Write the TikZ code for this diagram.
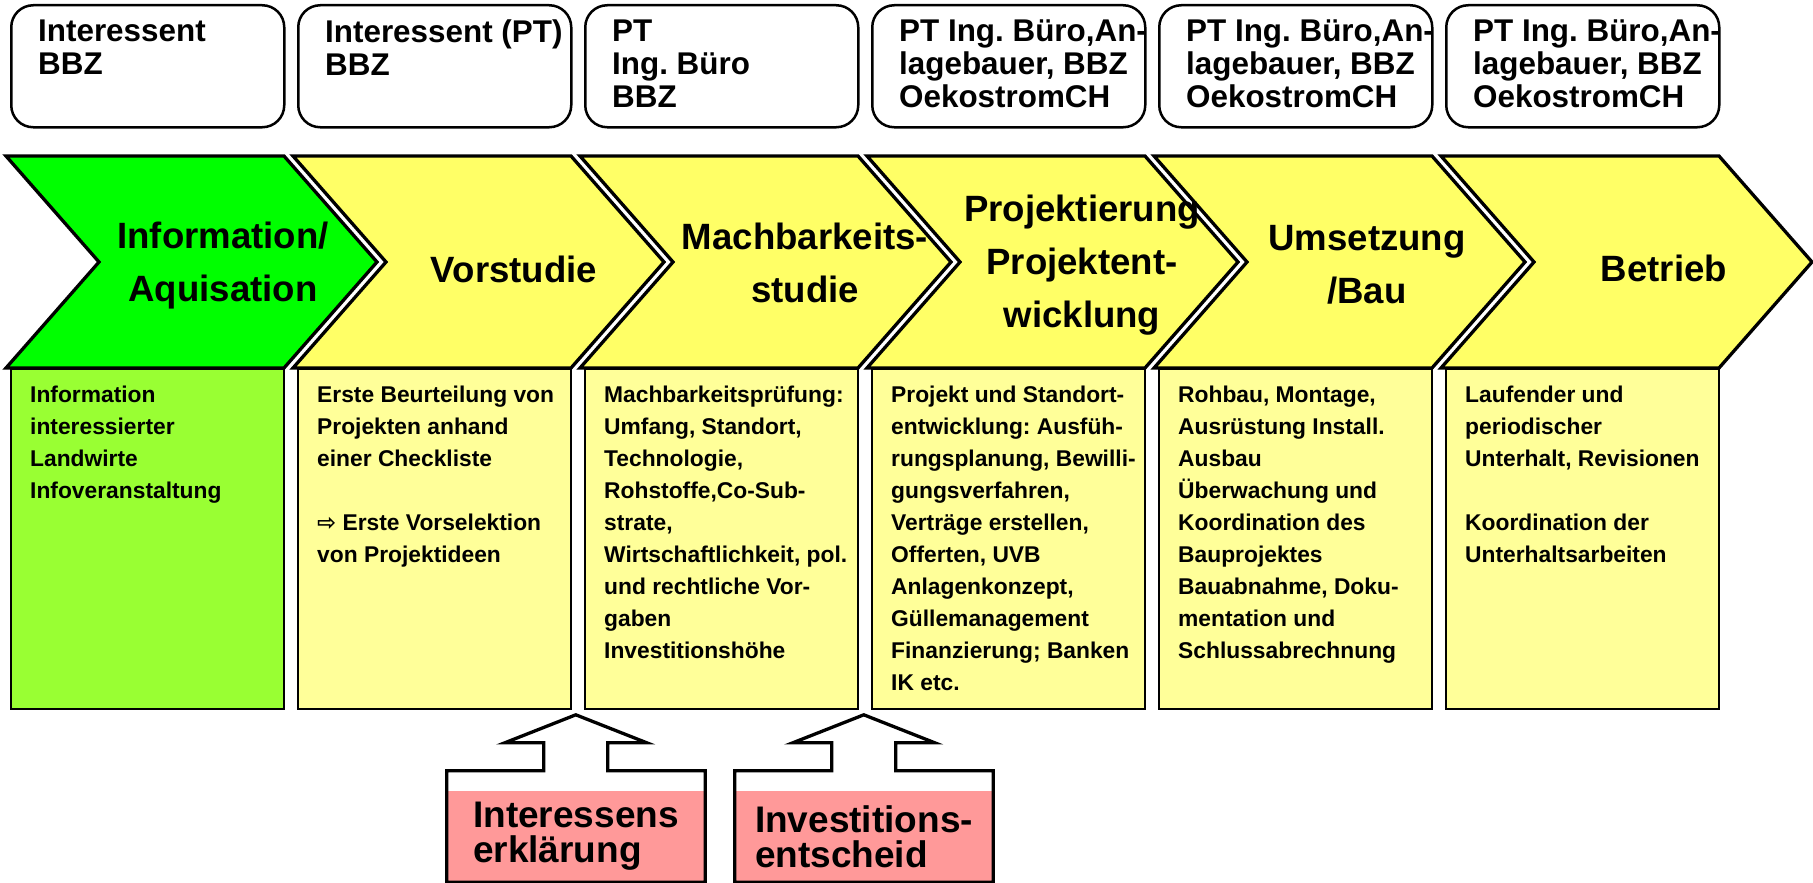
\documentclass[tikz,border=0pt]{standalone}
\usepackage{fontspec}
\setmainfont{Liberation Sans}
\newfontfamily\arrowfont{DejaVu Sans}
\usetikzlibrary{positioning}
\definecolor{phasegreen}{HTML}{00FF00}
\definecolor{phaseyellow}{HTML}{FFFF66}
\definecolor{taskgreen}{HTML}{99FF33}
\definecolor{taskyellow}{HTML}{FFFF99}
\definecolor{decisionred}{HTML}{FF9999}
\frenchspacing

\begin{document}
\begin{tikzpicture}[
        x=1pt, y=-1pt,
        role/.style={draw, line width=2.5pt, rounded corners=22pt, minimum width=273pt, minimum height=122pt, anchor=north west, inner sep=0pt},
        roletext/.style={inner sep=0pt, align=left, font=\bfseries\fontsize{31.4}{33}\selectfont},
        phase/.style={draw, line width=3.3pt, line join=miter},
        phasetext/.style={inner sep=0pt, align=center, font=\bfseries\fontsize{36.6}{53}\selectfont},
        task/.style={draw, line width=2pt, minimum width=273pt, minimum height=340pt, anchor=north west, inner sep=0pt},
        tasktext/.style={inner sep=0pt, align=left, font=\bfseries\fontsize{22.8}{32}\selectfont},
        decision/.style={fill=decisionred, minimum width=258pt, minimum height=91pt, inner sep=0pt, align=left, font=\bfseries\fontsize{37}{35}\selectfont},
        blockarrow/.style={draw, line width=3.3pt, line join=miter}
    ]
        \useasboundingbox (0,0) rectangle (1813,883);

        % Roles
        \node[role] (role1) at (10,4) {};
        \node[role] (role2) at (297,4) {};
        \node[role] (role3) at (584,4) {};
        \node[role] (role4) at (871,4) {};
        \node[role] (role5) at (1158,4) {};
        \node[role] (role6) at (1445,4) {};
        \node[roletext, below right=15.5pt and 28pt of role1.north west] (role1text) {Interessent\\BBZ};
        \node[roletext, below right=15.5pt and 28pt of role2.north west] (role2text) {Interessent (PT)\\BBZ};
        \node[roletext, below right=15.5pt and 28pt of role3.north west] (role3text) {PT\\Ing. Büro\\BBZ};
        \node[roletext, below right=15.5pt and 28pt of role4.north west] (role4text) {PT Ing. Büro,An-\\lagebauer, BBZ\\OekostromCH};
        \node[roletext, below right=15.5pt and 28pt of role5.north west] (role5text) {PT Ing. Büro,An-\\lagebauer, BBZ\\OekostromCH};
        \node[roletext, below right=15.5pt and 28pt of role6.north west] (role6text) {PT Ing. Büro,An-\\lagebauer, BBZ\\OekostromCH};

        % Phases
        \draw[phase, fill=phasegreen] (6,156) -- ++(278,0) -- ++(93,106) -- ++(-93,106) -- ++(-278,0) -- ++(93,-106) -- cycle;
        \draw[phase, fill=phaseyellow] (293,156) -- ++(278,0) -- ++(93,106) -- ++(-93,106) -- ++(-278,0) -- ++(93,-106) -- cycle;
        \draw[phase, fill=phaseyellow] (580,156) -- ++(278,0) -- ++(93,106) -- ++(-93,106) -- ++(-278,0) -- ++(93,-106) -- cycle;
        \draw[phase, fill=phaseyellow] (867,156) -- ++(278,0) -- ++(93,106) -- ++(-93,106) -- ++(-278,0) -- ++(93,-106) -- cycle;
        \draw[phase, fill=phaseyellow] (1154,156) -- ++(278,0) -- ++(93,106) -- ++(-93,106) -- ++(-278,0) -- ++(93,-106) -- cycle;
        \draw[phase, fill=phaseyellow] (1441,156) -- ++(278,0) -- ++(93,106) -- ++(-93,106) -- ++(-278,0) -- ++(93,-106) -- cycle;
        \node[phasetext] (info) at (223,266) {Information/\\Aquisation};
        \node[phasetext] (prestudy) at (514,269) {Vorstudie};
        \node[phasetext] (feasibility) at (805,263) {Machbarkeits-\\studie};
        \node[phasetext] (planning) at (1082,265) {Projektierung\\Projektent-\\wicklung};
        \node[phasetext] (construction) at (1367,265) {Umsetzung\\/Bau};
        \node[phasetext] (operation) at (1664,268) {Betrieb};

        % Tasks
        \node[task, fill=taskgreen] (task1) at (10,368) {};
        \node[task, fill=taskyellow] (task2) at (297,368) {};
        \node[task, fill=taskyellow] (task3) at (584,368) {};
        \node[task, fill=taskyellow] (task4) at (871,368) {};
        \node[task, fill=taskyellow] (task5) at (1158,368) {};
        \node[task, fill=taskyellow] (task6) at (1445,368) {};
        \node[tasktext, below right=17.5pt and 20pt of task1.north west] (task1text) {Information\\interessierter\\Landwirte\\Infoveranstaltung};
        \node[tasktext, below right=17.5pt and 20pt of task2.north west] (task2text) {Erste Beurteilung von\\Projekten anhand\\einer Checkliste\\[32pt]{\arrowfont ⇨} Erste Vorselektion\\von Projektideen};
        \node[tasktext, below right=17.5pt and 20pt of task3.north west] (task3text) {Machbarkeitsprüfung:\\Umfang, Standort,\\Technologie,\\Rohstoffe,Co-Sub-\\strate,\\Wirtschaftlichkeit, pol.\\und rechtliche Vor-\\gaben\\Investitionshöhe};
        \node[tasktext, below right=17.5pt and 20pt of task4.north west] (task4text) {Projekt und Standort-\\entwicklung: Ausfüh-\\rungsplanung, Bewilli-\\gungsverfahren,\\Verträge erstellen,\\Offerten, UVB\\Anlagenkonzept,\\Güllemanagement\\Finanzierung; Banken\\IK etc.};
        \node[tasktext, below right=17.5pt and 20pt of task5.north west] (task5text) {Rohbau, Montage,\\Ausrüstung Install.\\Ausbau\\Überwachung und\\Koordination des\\Bauprojektes\\Bauabnahme, Doku-\\mentation und\\Schlussabrechnung};
        \node[tasktext, below right=17.5pt and 20pt of task6.north west] (task6text) {Laufender und\\periodischer\\Unterhalt, Revisionen\\[32pt]Koordination der\\Unterhaltsarbeiten};

        % Decisions
        \node[decision] (interest) at (576,836.5) {Interessens\\erklärung};
        \node[decision] (investment) at (864,836.5) {Investitions-\\entscheid};
        \draw[blockarrow] (interest.south west) -- ([yshift=20pt]interest.north west) -- ++(97,0) -- ++(0,-28) -- ++(-39,0) -- ++(71,-28) -- ++(71,28) -- ++(-39,0) -- ++(0,28) -- ([yshift=20pt]interest.north east) -- (interest.south east) -- cycle;
        \draw[blockarrow] (investment.south west) -- ([yshift=20pt]investment.north west) -- ++(97,0) -- ++(0,-28) -- ++(-39,0) -- ++(71,-28) -- ++(71,28) -- ++(-39,0) -- ++(0,28) -- ([yshift=20pt]investment.north east) -- (investment.south east) -- cycle;

    \end{tikzpicture}
\end{document}
